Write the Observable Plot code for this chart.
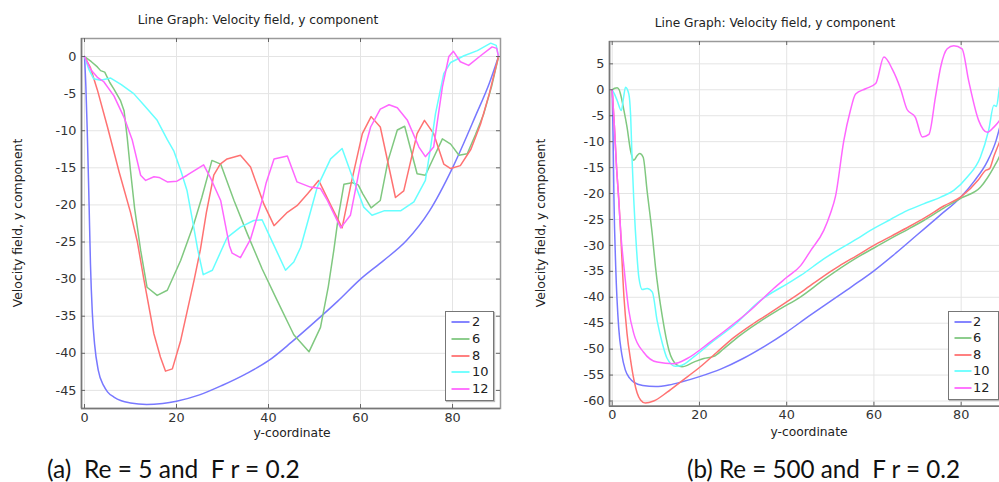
<!DOCTYPE html>
<html><head><meta charset="utf-8">
<script src="https://cdn.jsdelivr.net/npm/d3@7"></script>
<script src="https://cdn.jsdelivr.net/npm/@observablehq/plot@0.6"></script>
<style>
html,body{margin:0;padding:0;background:#fff;overflow:hidden;}
#page{position:relative;width:999px;height:482px;overflow:hidden;font-family:"DejaVu Sans",sans-serif;color:#333;}
.abs{position:absolute;white-space:pre;}
.title{font-size:12.2px;transform:translate(-50%,-50%);color:#222;}
.ylab{font-size:12.4px;transform:translate(-50%,-50%) rotate(-90deg);color:#222;}
.xlab{font-size:12.3px;transform:translate(-50%,-50%);color:#222;}
.cap{font-family:Lato,"Open Sans",sans-serif;font-size:21px;color:#111;transform:translateY(-50%);}
.legend{position:absolute;border:1.5px solid #777;background:#fff;box-shadow:1px 1px 1px #bbb;box-sizing:border-box;}
.legend .row{position:absolute;height:16px;font-size:13px;line-height:16px;color:#222;transform:translateY(-50%);}
.legend svg{position:absolute;top:0;}
</style></head>
<body><div id="page"></div>
<script>
// ---------- data ----------
const seriesNames = ["2", "6", "8", "10", "12"];
const seriesColors = ["#7878ff", "#80c880", "#ff7272", "#66ffff", "#ff66ff"];
const xTicks = [0, 20, 40, 60, 80];
const yTicksA = [0, -5, -10, -15, -20, -25, -30, -35, -40, -45];
const yTicksB = [5, 0, -5, -10, -15, -20, -25, -30, -35, -40, -45, -50, -55, -60];
const titleText = "Line Graph: Velocity field, y component";
const yLabelText = "Velocity field, y component";
const xLabelText = "y-coordinate";
const captionA = "(a)  Re = 5 and  F r = 0.2";
const captionB = "(b) Re = 500 and  F r = 0.2";

// panel (a): Re = 5
const a2 = [[0,0],[0.3,-4],[0.6,-10],[1,-20],[1.3,-28],[1.7,-34.5],[2.2,-38.8],[3,-42.3],[4.2,-44.4],[5,-45.2],[6.4,-45.9],[8,-46.4],[10,-46.7],[13.5,-46.9],[17,-46.75],[20,-46.45],[25,-45.6],[30,-44.3],[35,-42.8],[40,-41.0],[45,-38.5],[50,-35.8],[55,-33.0],[60,-30.0],[65,-27.5],[70,-24.8],[75,-20.8],[80,-15.0],[85,-8.0],[88,-3.6],[90,0]];
const a6 = [[0,0],[1.5,-0.7],[2.8,-1.4],[3.5,-1.9],[4.4,-2.1],[5.5,-3.5],[6.4,-4.4],[7.8,-5.9],[8.6,-7.3],[9.3,-11],[10,-15.4],[10.9,-20.5],[12.2,-26.1],[13.6,-31.1],[15.8,-32.2],[18,-31.5],[20.9,-27.5],[23.8,-22.5],[25.5,-19],[27.7,-14.0],[29.6,-14.5],[32.5,-19.4],[35.4,-23.9],[38.6,-28.6],[41.9,-32.9],[45.5,-37.5],[48.8,-39.8],[51.3,-36.5],[53,-31],[54.2,-26.1],[55.2,-21.5],[56.4,-17.2],[58.2,-17.0],[59.5,-17.3],[60.5,-18.5],[62.3,-20.4],[64.3,-19.4],[66,-14],[68,-9.9],[69.6,-9.4],[72.3,-15.8],[74.1,-16.0],[77.8,-11.1],[79.6,-11.8],[81.4,-13.3],[83.2,-13.1],[85,-10.5],[86.8,-7.7],[88.5,-4],[90,0]];
const a8 = [[0,0],[1.3,-1.5],[2.8,-4.5],[5,-9.5],[7.5,-15.5],[10,-21],[11.5,-25],[12.9,-30],[15.1,-37.4],[16.5,-40.5],[17.6,-42.4],[19.1,-42.1],[20.9,-38.3],[23.8,-30.2],[25.2,-26],[26.5,-21],[28.1,-16],[29.5,-14.5],[31,-13.8],[33.9,-13.3],[36.1,-14.9],[39,-19.9],[41.2,-22.8],[44.1,-21],[46.2,-20.1],[48.5,-18.5],[50.9,-16.7],[53.5,-20],[56,-23.1],[58,-17],[60.4,-10.4],[62.3,-8.1],[64.3,-9.5],[67.6,-19.0],[69.4,-18.1],[72.3,-10.4],[73.9,-8.6],[75.9,-10.4],[78.1,-14.5],[79.6,-15.1],[81.7,-14.7],[84,-12.5],[86.1,-9.1],[88,-5],[90,0]];
const a10 = [[0,0],[1,-1.8],[2,-3.0],[3.5,-3.2],[5.7,-2.9],[8,-3.8],[10.7,-5.0],[13,-6.6],[15.8,-8.6],[18,-11.2],[19.4,-12.7],[21,-15.5],[22.3,-18.1],[23.6,-22.5],[24.6,-26],[25.8,-29.4],[27.8,-28.8],[31,-24.4],[33.9,-23.0],[36.8,-22.1],[38.6,-22.0],[40.4,-24.4],[43.7,-28.8],[45.5,-27.7],[47,-25.7],[49.8,-19.4],[50.6,-17.6],[53.5,-13.8],[56,-12.4],[58.5,-16.7],[60.7,-20.3],[62.5,-21.4],[65.1,-20.8],[68.7,-20.8],[71.6,-19.6],[74.1,-16.7],[75.3,-12],[76.3,-7.7],[78.1,-2.3],[79.6,-0.8],[82.5,0.1],[85.4,0.8],[88.3,1.8],[89.5,1.5],[90,0]];
const a12 = [[0,0],[1.3,-1.7],[2.8,-2.8],[4.2,-3.4],[6.4,-5.3],[8.6,-8.2],[10.4,-11.3],[12.2,-16.0],[13.3,-16.7],[15.1,-16.2],[16.2,-16.3],[18,-16.9],[20.1,-16.8],[22.3,-16.0],[25.9,-14.6],[27.5,-16.5],[29.6,-19.4],[31.5,-25.5],[32.1,-26.5],[33.9,-27.1],[36.1,-24.6],[38.6,-19.4],[39.5,-17],[41.2,-13.8],[44.1,-13.4],[46.2,-16.9],[49.1,-17.6],[51.3,-17.8],[52.8,-19.4],[55.7,-23.1],[57.8,-21.4],[60,-14.5],[62.2,-9.5],[64.3,-7.1],[66.2,-6.5],[68,-6.9],[70.2,-8.6],[72.7,-12.2],[74.1,-13.5],[75.9,-12.2],[77.8,-4.1],[79.2,0],[80.2,0.7],[81.7,-0.7],[83.5,-1.2],[86.1,0.1],[88.6,1.3],[89.6,1.1],[90,0]];

// panel (b): Re = 500
const b2 = [[0,0],[0.2,-9],[0.4,-21],[0.8,-34],[1.5,-46],[2.2,-51],[3,-54],[4,-55.6],[5,-56.4],[7,-57],[10,-57.2],[13,-56.9],[16,-56.3],[20,-55.3],[25,-53.8],[30,-51.8],[35,-49.4],[40,-46.7],[45,-43.7],[50,-40.8],[55,-37.9],[60,-34.9],[65,-31.5],[70,-27.9],[75,-24.3],[80,-20.6],[83,-17.6],[86,-13.8],[88,-9.8],[89,-6.8],[90,-4]];
const b6 = [[0,0],[0.6,0.3],[1.15,0.4],[1.6,0],[1.9,-0.8],[2.7,-4.0],[3.4,-7.2],[4.2,-11.7],[4.95,-13.6],[5.7,-12.7],[6.3,-12.3],[7.1,-13],[8,-19.5],[9.2,-28],[9.9,-34],[11.5,-43.8],[13,-50.2],[14.9,-53.1],[16,-53.4],[18.7,-52.5],[21,-51.8],[23.3,-51.4],[25.6,-49.9],[29.4,-47.3],[34,-44.6],[38.6,-42.2],[43.2,-39.9],[48.5,-36.6],[56,-32.4],[60,-30.5],[64,-28.6],[68,-26.8],[71.4,-25.2],[76,-22.8],[80.2,-20.8],[84.4,-18.8],[86,-17],[87.5,-14.9],[88.8,-12.8],[90,-10]];
const b8 = [[0,0],[0.5,-7],[1,-15],[1.5,-21],[1.9,-27],[2.7,-40],[3.4,-47],[4.2,-52],[5,-56],[5.7,-58.4],[6.5,-59.8],[7.6,-60.4],[9.5,-60],[12.6,-58.3],[15.7,-56.3],[20.2,-53.4],[24,-50.6],[28,-47.7],[32,-45.3],[35.5,-43.4],[40,-40.9],[44,-38.6],[48.5,-35.9],[52,-34],[56,-32],[60,-30],[64,-28.2],[68,-26.4],[72,-24.5],[76,-22.4],[80,-20.6],[84,-17.3],[85.5,-15.6],[86.5,-15.2],[87.5,-12.8],[88.9,-9.8],[90,-7]];
const b10 = [[0,0],[0.5,-0.8],[1.15,-2.1],[2.1,-4.0],[2.6,-1.5],[3.05,0.5],[3.8,-0.8],[4.2,-4.6],[4.6,-14.3],[4.95,-21.3],[5.3,-27],[5.6,-31],[6.1,-36.1],[6.9,-38.5],[8,-38.3],[9.2,-39],[10.3,-44.5],[11.5,-48.9],[12.6,-51.8],[14.5,-53.3],[16,-53.1],[18.7,-51.5],[22.5,-48.9],[27.9,-45.4],[34,-40.6],[40.1,-37.4],[43.2,-35.8],[48.5,-32.6],[56.2,-28.7],[59.2,-27.1],[63.8,-25],[67.6,-23.3],[71.4,-22],[75.3,-20.7],[78.3,-19.4],[81.4,-16.8],[84.4,-13],[86.3,-7.8],[87.5,-3.0],[88.1,-3.2],[88.8,0.5],[90,3]];
const b12 = [[0,0],[0.5,-7],[1,-15],[1.5,-21.3],[2,-28],[2.7,-34.2],[3.8,-42.5],[4.95,-47],[7.2,-50.6],[10.3,-52.5],[14.1,-52.8],[17.2,-51.8],[22.5,-48.6],[27.9,-45.1],[31.7,-42.5],[37,-38.3],[40.1,-36.1],[43.2,-33.9],[45.5,-31],[48.5,-27.1],[50,-23.9],[51.2,-20.5],[53.1,-9.8],[54.6,-4.0],[55.8,-0.8],[58.1,0.2],[60.4,1.2],[62.3,6.3],[64.2,4.0],[66.1,0.2],[67.6,-3.8],[69.5,-5.3],[71.1,-9.1],[72.6,-8.6],[74.1,-1.4],[75.3,4.4],[76.8,7.9],[78.3,8.5],[80.2,7.9],[81.7,1.8],[84,-5.9],[86,-8.2],[87.5,-7.2],[88.8,-5.9],[90,-4]];

const panelA = [a2, a6, a8, a10, a12];
const panelB = [b2, b6, b8, b10, b12];

// ---------- drawing ----------
const page = document.getElementById("page");
function addText(cls, txt, left, top) {
  const d = document.createElement("div");
  d.className = "abs " + cls;
  d.textContent = txt;
  d.style.left = left + "px";
  d.style.top = top + "px";
  page.appendChild(d);
  return d;
}

function makePanel(series, cfg) {
  const [x0, x1] = cfg.xDomain, [y0, y1] = cfg.yDomain;
  const pw = cfg.width - cfg.ml - cfg.mr, ph = cfg.height - cfg.mt - cfg.mb;
  const tx = 4 * (x1 - x0) / pw, ty = 4 * (y1 - y0) / ph; // 4px inner ticks in data units
  const marks = [
    Plot.ruleX(xTicks, {stroke: "#e4e4e4", strokeWidth: 1}),
    Plot.ruleY(cfg.yTicks, {stroke: "#e4e4e4", strokeWidth: 1})
  ];
  series.forEach((s, i) => {
    marks.push(Plot.line(s, {
      x: d => d[0], y: d => d[1],
      stroke: seriesColors[i], strokeWidth: 1.5,
      curve: cfg.curves[i], clip: true
    }));
  });
  marks.push(Plot.frame({stroke: "#9a9a9a", strokeWidth: 1.5}));
  marks.push(Plot.ruleX([x0], {stroke: "#777", strokeWidth: 1.5}));
  marks.push(Plot.ruleY([y0], {stroke: "#777", strokeWidth: 1.5}));
  // inner tick marks on all four sides of the frame
  marks.push(Plot.ruleX(xTicks, {y1: y0, y2: y0 + tx * 0 + ty, stroke: "#666", strokeWidth: 1}));
  marks.push(Plot.ruleX(xTicks, {y1: y1, y2: y1 - ty, stroke: "#666", strokeWidth: 1}));
  marks.push(Plot.ruleY(cfg.yTicks, {x1: x0, x2: x0 + tx, stroke: "#666", strokeWidth: 1}));
  marks.push(Plot.ruleY(cfg.yTicks, {x1: x1, x2: x1 - tx, stroke: "#666", strokeWidth: 1}));
  const svg = Plot.plot({
    width: cfg.width, height: cfg.height,
    marginLeft: cfg.ml, marginRight: cfg.mr, marginTop: cfg.mt, marginBottom: cfg.mb,
    style: {fontFamily: "DejaVu Sans, sans-serif", fontSize: "12.8px", color: "#333", background: "transparent", overflow: "visible"},
    x: {domain: cfg.xDomain, ticks: xTicks, tickSize: 0, tickPadding: 4, tickFormat: d => String(d), label: null},
    y: {domain: cfg.yDomain, ticks: cfg.yTicks, tickSize: 0, tickPadding: 5, tickFormat: d => String(d), label: null},
    marks
  });
  svg.style.position = "absolute";
  svg.style.left = cfg.left + "px";
  svg.style.top = "0px";
  page.appendChild(svg);
}

makePanel(panelA, {
  left: 0, width: 520, height: 440, ml: 81, mr: 20, mt: 38, mb: 32,
  xDomain: [-0.65, 90.43], yDomain: [-47.44, 2.43], yTicks: yTicksA,
  curves: ["monotone-x", "linear", "linear", "linear", "linear"]
});
makePanel(panelB, {
  left: 570, width: 450, height: 440, ml: 39, mr: 14.4, mt: 41, mb: 34.3,
  xDomain: [-0.62, 90.3], yDomain: [-61.0, 9.31], yTicks: yTicksB,
  curves: ["monotone-x", "monotone-x", "monotone-x", "monotone-x", "monotone-x"]
});

function makeLegend(left, top, w, h, rowTops, swX, swW, txtX) {
  const box = document.createElement("div");
  box.className = "legend";
  box.style.left = left + "px"; box.style.top = top + "px";
  box.style.width = w + "px"; box.style.height = h + "px";
  seriesNames.forEach((n, i) => {
    const row = document.createElement("div");
    row.className = "row";
    row.style.left = "0px"; row.style.top = rowTops[i] + "px"; row.style.width = w + "px";
    row.innerHTML = `<svg width="${swX + swW + 2}" height="16"><line x1="${swX}" x2="${swX + swW}" y1="8" y2="8" stroke="${seriesColors[i]}" stroke-width="1.8"/></svg><span style="position:absolute;left:${txtX}px;top:0">${n}</span>`;
    box.appendChild(row);
  });
  page.appendChild(box);
}
makeLegend(445, 311, 49, 90, [10, 27, 43.5, 60, 76.5], 5.5, 18, 26);
makeLegend(948, 311, 51, 89, [10, 26, 42.5, 59, 75.5], 5.5, 17, 24);

addText("title", titleText, 258, 20);
addText("title", titleText, 775, 23);
addText("ylab", yLabelText, 17, 223);
addText("ylab", yLabelText, 540, 223);
addText("xlab", xLabelText, 292, 433);
addText("xlab", xLabelText, 809, 432);

function fitCaption(txt, left, centerY, targetW) {
  const d = addText("cap", txt, left, centerY);
  const w = d.getBoundingClientRect().width;
  if (w > 0) d.style.fontSize = (21 * targetW / w).toFixed(2) + "px";
}
fitCaption(captionA, 47, 468, 253);
fitCaption(captionB, 687, 468, 273);
</script>
</body></html>
